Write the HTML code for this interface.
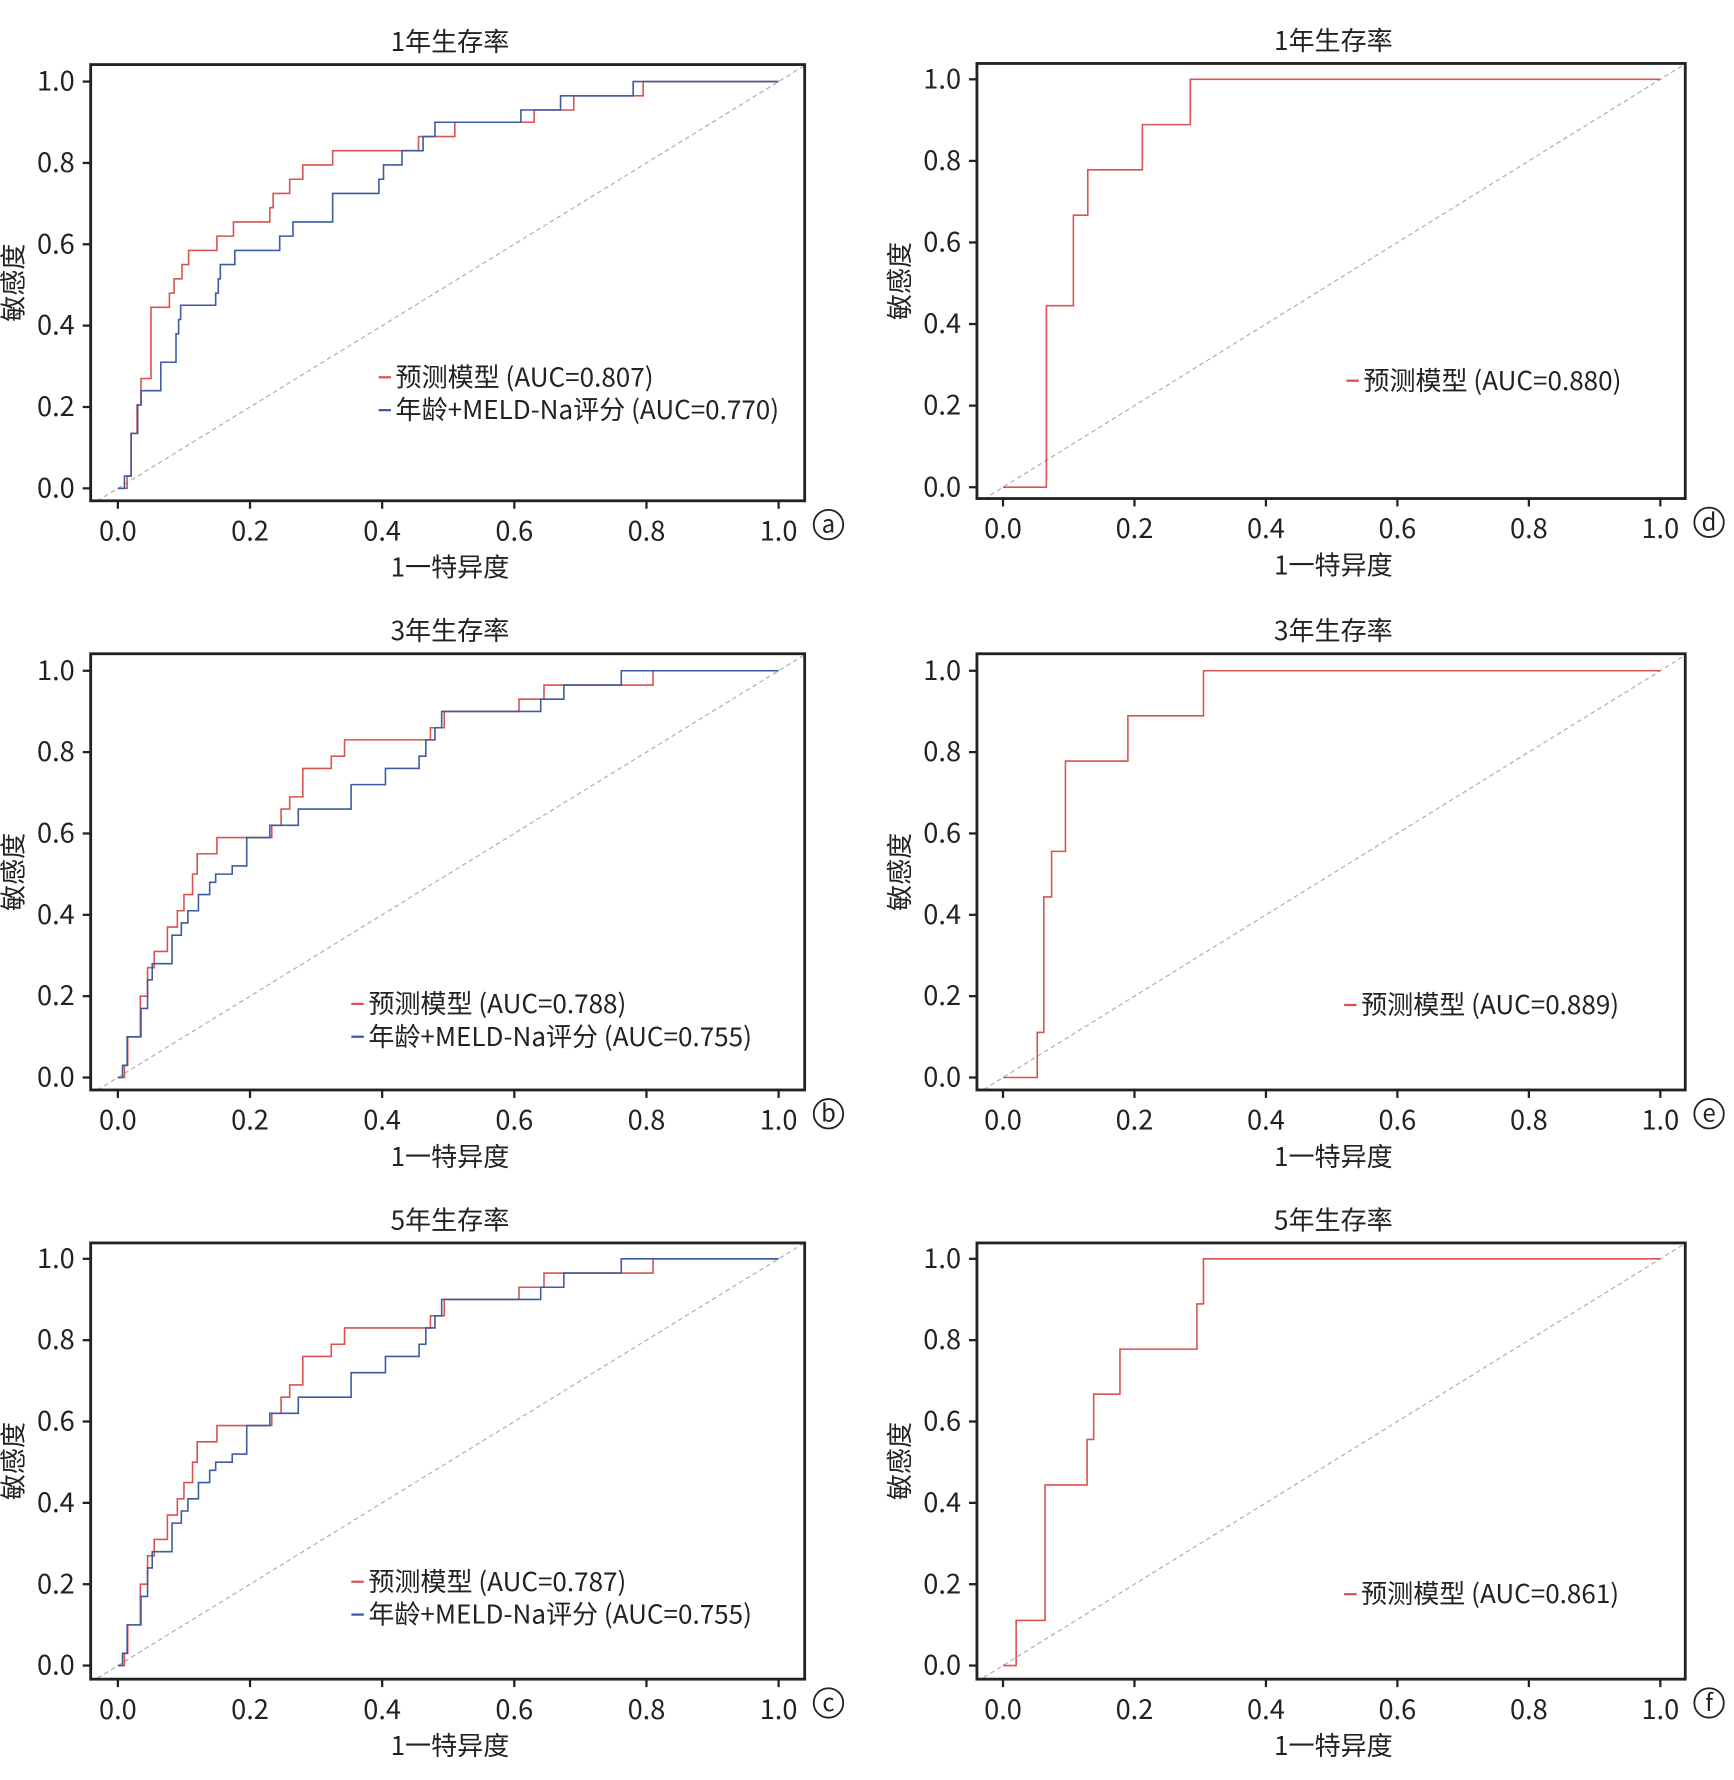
<!DOCTYPE html>
<html><head><meta charset="utf-8"><style>
html,body{margin:0;padding:0;background:#fff}
svg{display:block}
text{font-family:"Noto Sans CJK SC","Liberation Sans",sans-serif;fill:#222}
</style></head><body>
<svg id="s" width="1734" height="1780" viewBox="0 0 1530 1571" preserveAspectRatio="none" xmlns="http://www.w3.org/2000/svg"></svg>
<script>
const S=document.getElementById('s');let h='';
const red='#d9534f',blue='#3b5ba5';
function steps(a){let p=[[0,0]];for(const [x,y] of a){const l=p[p.length-1];p.push([x,l[1]]);p.push([x,y]);}p.push([1,p[p.length-1][1]]);return p;}
function panel(o){
 const {bx0,bx1,by0,by1,x0,x1,y0,y1}=o;
 const X=v=>x0+v*(x1-x0),Y=v=>y0+v*(y1-y0);
 const cid='c'+Math.round(bx0)+'_'+Math.round(by0);
 h+=`<clipPath id="${cid}"><rect x="${bx0}" y="${by0}" width="${bx1-bx0}" height="${by1-by0}"/></clipPath>`;
 h+=`<line x1="${bx0}" y1="${Y((bx0-x0)/(x1-x0))}" x2="${bx1}" y2="${Y((bx1-x0)/(x1-x0))}" stroke="#aaa" stroke-width="1" stroke-dasharray="4,3" clip-path="url(#${cid})"/>`;
 for(const c of o.curves){
  const pts=steps(c.d).map(p=>X(p[0]).toFixed(1)+','+Y(p[1]).toFixed(1)).join(' ');
  h+=`<polyline points="${pts}" fill="none" stroke="${c.col}" stroke-width="1.4" clip-path="url(#${cid})"/>`;
 }
 h+=`<rect x="${bx0}" y="${by0}" width="${bx1-bx0}" height="${by1-by0}" fill="none" stroke="#222" stroke-width="2.5"/>`;
 for(let i=0;i<=5;i++){const v=i/5;
  h+=`<line x1="${X(v)}" y1="${by1}" x2="${X(v)}" y2="${by1+7}" stroke="#222" stroke-width="2"/>`;
  h+=`<text x="${X(v)}" y="${by1+35}" font-size="24" text-anchor="middle">${v.toFixed(1)}</text>`;
  h+=`<line x1="${bx0}" y1="${Y(v)}" x2="${bx0-7}" y2="${Y(v)}" stroke="#222" stroke-width="2"/>`;
  h+=`<text x="${bx0-14}" y="${Y(v)+8}" font-size="24" text-anchor="end">${v.toFixed(1)}</text>`;
 }
 const cx=(bx0+bx1)/2;
 h+=`<text x="${cx+2}" y="${by0-12}" font-size="23" text-anchor="middle">${o.title}</text>`;
 h+=`<text x="${cx+2}" y="${by1+67}" font-size="23" text-anchor="middle">1一特异度</text>`;
 const ly=(by0+by1)/2;
 h+=`<text transform="translate(${bx0-60},${ly}) rotate(-90)" font-size="23" text-anchor="middle">敏感度</text>`;
 h+=`<circle cx="${bx1+21}" cy="${by1+21}" r="13" fill="none" stroke="#222" stroke-width="1.6"/><text x="${bx1+21}" y="${by1+28}" font-size="21" text-anchor="middle">${o.tag}</text>`;
 o.leg.forEach((l,i)=>{const yy=o.ly+i*29;
  h+=`<line x1="${o.lx}" y1="${yy}" x2="${o.lx+11}" y2="${yy}" stroke="${l[0]}" stroke-width="2"/>`;
  h+=`<text x="${o.lx+15}" y="${yy+8}" font-size="23">${l[1]}</text>`;});
}
const aR=[[0.014,0.03],[0.02,0.135],[0.029,0.205],[0.035,0.27],[0.05,0.445],[0.078,0.48],[0.085,0.515],[0.097,0.55],[0.107,0.585],[0.15,0.62],[0.175,0.655],[0.23,0.69],[0.235,0.725],[0.26,0.76],[0.28,0.795],[0.325,0.83],[0.455,0.865],[0.51,0.9],[0.63,0.93],[0.69,0.965],[0.795,1.0]];
const aB=[[0.01,0.03],[0.02,0.135],[0.03,0.205],[0.035,0.24],[0.065,0.31],[0.088,0.38],[0.092,0.415],[0.095,0.45],[0.148,0.48],[0.152,0.515],[0.155,0.55],[0.177,0.585],[0.245,0.62],[0.265,0.655],[0.325,0.725],[0.395,0.76],[0.402,0.795],[0.43,0.83],[0.462,0.865],[0.48,0.9],[0.61,0.93],[0.67,0.965],[0.78,1.0]];
const bR=[[0.01,0.03],[0.015,0.1],[0.034,0.2],[0.045,0.27],[0.055,0.31],[0.075,0.37],[0.09,0.41],[0.1,0.45],[0.113,0.5],[0.12,0.55],[0.15,0.59],[0.233,0.62],[0.247,0.66],[0.26,0.69],[0.28,0.76],[0.323,0.79],[0.343,0.83],[0.473,0.86],[0.494,0.9],[0.607,0.93],[0.645,0.965],[0.81,1.0]];
const bB=[[0.007,0.03],[0.014,0.1],[0.035,0.17],[0.045,0.24],[0.052,0.28],[0.082,0.35],[0.096,0.38],[0.106,0.41],[0.122,0.45],[0.139,0.48],[0.148,0.5],[0.173,0.52],[0.195,0.59],[0.23,0.62],[0.273,0.66],[0.353,0.72],[0.405,0.76],[0.456,0.79],[0.466,0.83],[0.48,0.86],[0.49,0.9],[0.64,0.93],[0.675,0.965],[0.762,1.0]];
const dR=[[0.066,0.445],[0.107,0.667],[0.129,0.778],[0.212,0.889],[0.285,1]];
const eR=[[0.052,0.111],[0.062,0.444],[0.074,0.556],[0.095,0.778],[0.19,0.889],[0.305,1]];
const fR=[[0.02,0.111],[0.064,0.444],[0.128,0.556],[0.138,0.667],[0.178,0.778],[0.295,0.889],[0.305,1]];
const rows=[{by0:57,by1:442,y1:72,y0:431},{by0:577,by1:962,y1:592,y0:951},{by0:1097,by1:1482,y1:1111,y0:1470}];
const titles=['1年生存率','3年生存率','5年生存率'];
const leftLeg=[['(AUC=0.807)','(AUC=0.770)'],['(AUC=0.788)','(AUC=0.755)'],['(AUC=0.787)','(AUC=0.755)']];
const leftCurves=[[aR,aB],[bR,bB],[bR,bB]];
const lpos=[[334,333],[310,886],[310,1396]];
const rAUC=['(AUC=0.880)','(AUC=0.889)','(AUC=0.861)'];
const rC=[dR,eR,fR];const rpos=[[1188,336],[1186,887],[1186,1407]];
for(let i=0;i<3;i++){const r=rows[i];
 panel({bx0:80,bx1:710,by0:r.by0,by1:r.by1,x0:104,x1:687,y0:r.y0,y1:r.y1,title:titles[i],tag:'abc'[i],
  curves:[{d:leftCurves[i][0],col:red},{d:leftCurves[i][1],col:blue}],lx:lpos[i][0],ly:lpos[i][1],
  leg:[[red,'预测模型 '+leftLeg[i][0]],[blue,'年龄+MELD-Na评分 '+leftLeg[i][1]]]});
 panel({bx0:862,bx1:1487,by0:r.by0-(i==0?1:0),by1:r.by1-(i==0?2:0),x0:885,x1:1465,y0:r.y0-(i==0?1:0),y1:r.y1-(i==0?2:0),title:titles[i],tag:'def'[i],
  curves:[{d:rC[i],col:red}],lx:rpos[i][0],ly:rpos[i][1],leg:[[red,'预测模型 '+rAUC[i]]]});
}
S.innerHTML=h;
</script>
</body></html>
